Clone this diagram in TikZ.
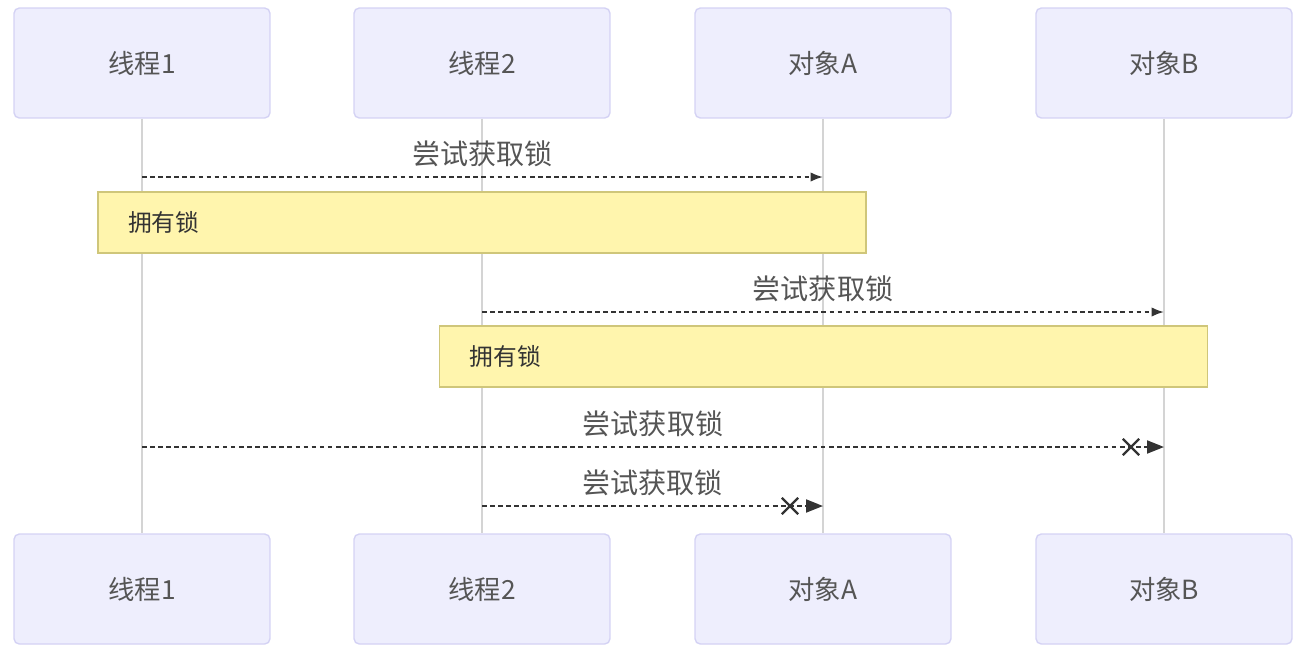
\documentclass[tikz,border=0pt]{standalone}
\usepackage{fontspec}
\setmainfont{Noto Sans CJK SC}
\usepackage{tikz}
\usetikzlibrary{arrows.meta,positioning,shapes.misc}
\definecolor{actorfill}{HTML}{EEEEFD}
\definecolor{actorline}{HTML}{D4D2F4}
\definecolor{notefill}{HTML}{FFF5AD}
\definecolor{noteline}{HTML}{CFC67A}
\definecolor{lifegray}{HTML}{D4D4D4}
\definecolor{ink}{HTML}{333333}
\definecolor{muted}{HTML}{555555}

\begin{document}
\begin{tikzpicture}[x=0.02cm,y=-0.02cm,
  every node/.style={font=\fontsize{15}{18}\selectfont,text=muted},
  actor/.style={draw=actorline,fill=actorfill,line width=0.8pt,rounded corners=3pt,
    minimum width=5.12cm,minimum height=2.2cm,inner sep=0pt},
  note/.style={draw=noteline,fill=notefill,line width=0.8pt,text width=14.16cm,
    inner xsep=0.6cm,minimum height=1.22cm,align=left,font=\fontsize{13.5}{16}\selectfont,text=ink},
  msg/.style={draw=ink,line width=1.1pt,dash pattern=on 2.6pt off 2pt},
  tip/.style={-{Latex[length=2.5mm,width=1.9mm]}},
  failtip/.style={-{Triangle[length=3.4mm,width=2.6mm]}},
  msglabel/.style={midway,above=0.7mm,font=\fontsize{16}{19}\selectfont},
  fail/.style={cross out,draw=ink,line width=1.3pt,minimum size=0.28cm,inner sep=0pt}
]
\useasboundingbox (0,0) rectangle (1308,654);

% participants
\node[actor] (t1) at (142,63) {线程1};
\node[actor] (t2) at (482,63) {线程2};
\node[actor] (oa) at (823,63) {对象A};
\node[actor] (ob) at (1164,63) {对象B};
\node[actor] (t1b) at (142,589) {线程1};
\node[actor] (t2b) at (482,589) {线程2};
\node[actor] (oab) at (823,589) {对象A};
\node[actor] (obb) at (1164,589) {对象B};

% lifelines
\foreach \p in {t1,t2,oa,ob}
  \draw[lifegray,line width=0.6pt] (\p.south) -- (\p b.north);

% messages
\coordinate (s1) at (t1 |- 0,177);
\coordinate (e1) at (oa |- 0,177);
\draw[msg,tip] (s1) -- (e1) node[msglabel] {尝试获取锁};

\node[note] (n1) at (482,222.5) {拥有锁};

\coordinate (s2) at (t2 |- 0,312);
\coordinate (e2) at (ob |- 0,312);
\draw[msg,tip] (s2) -- (e2) node[msglabel] {尝试获取锁};

\node[note] (n2) at (823.5,356.5) {拥有锁};

\coordinate (s3) at (t1 |- 0,447);
\coordinate (e3) at (ob |- 0,447);
\draw[msg,failtip] (s3) -- (e3) node[msglabel] {尝试获取锁};
\node[fail] (x3) at (1131,447) {};

\coordinate (s4) at (t2 |- 0,506);
\coordinate (e4) at (oa |- 0,506);
\draw[msg,failtip] (s4) -- (e4) node[msglabel] {尝试获取锁};
\node[fail] (x4) at (790,506) {};
\end{tikzpicture}
\end{document}
